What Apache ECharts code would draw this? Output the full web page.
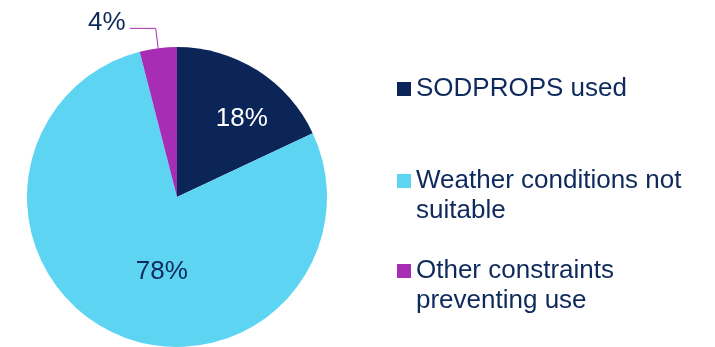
<!DOCTYPE html>
<html>
<head>
    <meta charset="utf-8">
    <title>SODPROPS</title>
    <script src="https://cdn.jsdelivr.net/npm/echarts@6/dist/echarts.min.js"></script>
    <style>
        html, body { margin: 0; padding: 0; background: #fff; }
        #main { width: 715px; height: 347px; }
    </style>
</head>
<body>
    <div id="main"></div>
    <script>
        // data
        var categories = ['SODPROPS used', 'Weather conditions not\nsuitable', 'Other constraints\npreventing use'];
        var shares = [18, 78, 4];
        var colors = ['#0b2559', '#5dd5f2', '#a62db4'];

        var textColor = '#0e2a5c';
        var fontFamily = 'Arial, "Liberation Sans", sans-serif';

        // label placement per slice (Excel puts them a bit off the mid radius)
        var labelStyles = [
            { position: 'inside', color: '#ffffff' },
            { position: 'inside', color: textColor },
            { position: 'outside', color: textColor }
        ];
        var labelShift = [[23, -12], [18, 4], [0, -6]];

        var chartDom = document.getElementById('main');
        var myChart = echarts.init(chartDom);

        var pieData = categories.map(function (name, i) {
            return {
                name: name,
                value: shares[i],
                itemStyle: { color: colors[i] },
                label: labelStyles[i],
                labelLine: { show: labelStyles[i].position === 'outside' }
            };
        });

        // one legend per item; two-line names get a blank line on top so the
        // square sits beside the first line, like in the original
        var legendTops = [74, 136, 226];
        var legends = categories.map(function (name, i) {
            return {
                orient: 'vertical',
                left: 397,
                top: legendTops[i],
                padding: 0,
                itemWidth: 14,
                itemHeight: 14,
                itemGap: 0,
                icon: 'rect',
                selectedMode: false,
                data: [name],
                formatter: function (n) {
                    return n.indexOf('\n') >= 0 ? ' \n' + n : n;
                },
                textStyle: {
                    color: textColor,
                    fontSize: 26,
                    fontFamily: fontFamily,
                    lineHeight: 30
                }
            };
        });

        var option = {
            animation: false,
            legend: legends,
            series: [
                {
                    type: 'pie',
                    center: [177, 197],
                    radius: 150,
                    startAngle: 90,
                    clockwise: true,
                    avoidLabelOverlap: false,
                    itemStyle: { borderWidth: 0 },
                    emphasis: { scale: false },
                    label: {
                        formatter: '{c}%',
                        fontSize: 26,
                        fontFamily: fontFamily,
                        distanceToLabelLine: 4
                    },
                    labelLine: {
                        length: 20,
                        length2: 26,
                        lineStyle: { color: '#a62db4', width: 1 }
                    },
                    labelLayout: function (params) {
                        var s = labelShift[params.dataIndex];
                        return { dx: s[0], dy: s[1] };
                    },
                    data: pieData
                }
            ]
        };

        option && myChart.setOption(option);
    </script>
</body>
</html>
